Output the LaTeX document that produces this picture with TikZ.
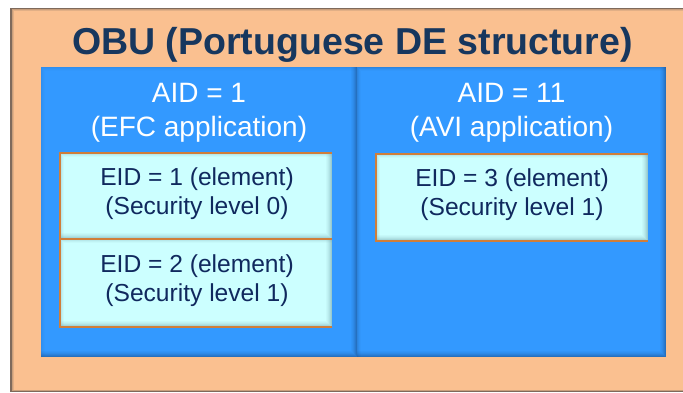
\documentclass[tikz,border=0pt]{standalone}
\usepackage{fontspec}
\setmainfont{Liberation Sans}
\definecolor{obuorange}{HTML}{FAC090}
\definecolor{obuedge}{HTML}{7E6A5C}
\definecolor{panelblue}{HTML}{3399FF}
\definecolor{paneldark}{HTML}{1A4F8C}
\definecolor{elemfill}{HTML}{CCFFFF}
\definecolor{elemshade}{HTML}{6E9FA8}
\definecolor{elemborder}{HTML}{D07E3A}
\definecolor{titlenavy}{HTML}{17375E}
\definecolor{elemtext}{HTML}{10295E}

\tikzset{
  titletext/.style={anchor=base, text=titlenavy, font=\fontsize{37.5}{40}\selectfont\bfseries, inner sep=0pt},
  % multi-line labels: the base anchor sits on the last line's baseline
  apptext/.style={anchor=base, text=white, align=center, font=\fontsize{28}{34}\selectfont, inner sep=0pt},
  elemtext/.style={anchor=base, text=elemtext, align=center, font=\fontsize{24.6}{29.5}\selectfont, inner sep=0pt},
  panelbox/.style={fill=panelblue, draw=none, inner sep=0pt},
  elembox/.style={fill=elemfill, draw=none, inner sep=0pt},
  obubox/.style={fill=obuorange, draw=none, inner sep=0pt},
  elemline/.style={elemborder, line width=1.6pt},
}

% inner shadow along the right and bottom edges of a box
\newcommand{\edgeshade}[6]{%
  \foreach \i/\o in {0/0.55,1/0.42,2/0.30,3/0.20,4/0.12,5/0.06}{%
    \draw[#5, opacity=\o*#6, line width=1pt]
      (#1, #4-\i-0.5) -- (#3-\i-0.5, #4-\i-0.5) -- (#3-\i-0.5, #2);
  }%
}
% faint inner shadow along the top and left edges of a box
\newcommand{\topshade}[6]{%
  \foreach \i/\o in {0/0.35,1/0.22,2/0.12,3/0.05}{%
    \draw[#5, opacity=\o*#6, line width=1pt]
      (#1+\i+0.5, #4) -- (#1+\i+0.5, #2+\i+0.5) -- (#3, #2+\i+0.5);
  }%
}

\begin{document}
\begin{tikzpicture}[x=1pt,y=-1pt]
\useasboundingbox (0,0) rectangle (683,392);
\fill[white] (0,0) rectangle (683,392);

% OBU outer frame with a soft dark edge
\fill[obuedge] (10,8) rectangle (690,392);
\fill[obuorange!60!obuedge] (11.5,9) rectangle (690,391);
\fill[obuorange!80!obuedge] (12.5,9.8) rectangle (690,390.2);
\node[obubox, minimum width=676.5pt, minimum height=379pt] (obu) at (351.75,200) {};

\node[titletext] (title) at (352.5,54) {OBU (Portuguese DE structure)};

% application panels
\node[panelbox, minimum width=316pt, minimum height=290pt] (efc) at (199,212) {};
\node[panelbox, minimum width=309pt, minimum height=290pt] (avi) at (511.5,212) {};
\edgeshade{41}{67}{357}{357}{paneldark}{1}
\edgeshade{357}{67}{666}{357}{paneldark}{1}
\topshade{357}{67}{666}{357}{paneldark}{0.8}
\topshade{41}{67}{357}{357}{paneldark}{0.4}

\node[apptext] (aid1) at (199,136) {AID = 1\\(EFC application)};
\node[apptext] (aid11) at (511.5,136) {AID = 11\\(AVI application)};

% element boxes
\node[elembox, minimum width=272pt, minimum height=86pt] (e1box) at (196,196) {};
\node[elembox, minimum width=272pt, minimum height=88pt] (e2box) at (196,283) {};
\node[elembox, minimum width=272pt, minimum height=87pt] (e3box) at (512,197.5) {};

\edgeshade{60}{153}{332}{239}{elemshade}{1}
\topshade{60}{153}{332}{239}{elemshade}{1}
\edgeshade{60}{239}{332}{327}{elemshade}{1}
\topshade{60}{239}{332}{327}{elemshade}{1}
\edgeshade{376}{154}{648}{241}{elemshade}{1}
\topshade{376}{154}{648}{241}{elemshade}{1}

\draw[elemline] (e1box.north east) -- (e1box.north west) -- (e2box.south west) -- (e2box.south east);
\draw[elemline] (e1box.south west) -- (e1box.south east);
\draw[elemline] (e3box.north east) -- (e3box.north west) -- (e3box.south west) -- (e3box.south east);

\node[elemtext] (eid1) at (197,214.5) {EID = 1 (element)\\(Security level 0)};
\node[elemtext] (eid2) at (197,301.5) {EID = 2 (element)\\(Security level 1)};
\node[elemtext] (eid3) at (512,215.5) {EID = 3 (element)\\(Security level 1)};
\end{tikzpicture}
\end{document}
